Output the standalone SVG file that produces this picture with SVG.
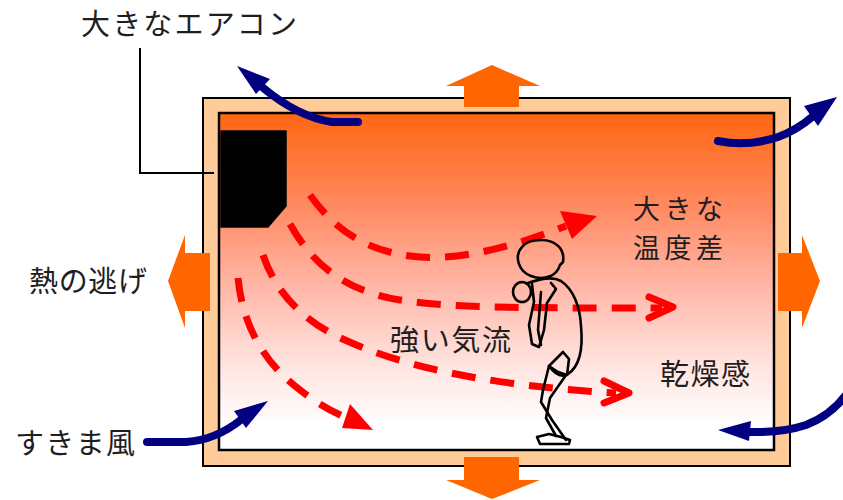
<svg xmlns="http://www.w3.org/2000/svg" width="843" height="500" viewBox="0 0 843 500">
  <defs>
    <linearGradient id="roomHeat" x1="0" y1="0" x2="0" y2="1">
      <stop offset="0" stop-color="#FF6611"/>
      <stop offset="0.28" stop-color="#FF8A62"/>
      <stop offset="0.5" stop-color="#FFB4A4"/>
      <stop offset="0.75" stop-color="#FFE4E0"/>
      <stop offset="0.93" stop-color="#FFFFFF"/>
    </linearGradient>
    <style>
      .label { font-family: "Noto Sans CJK JP", "Noto Sans", sans-serif; font-size: 29px; fill: #1e1e1e; }
      .label-sm { font-size: 27px; }
      .heat { fill: #FF6600; }
      .draft { fill: none; stroke: #000080; stroke-width: 8; stroke-linecap: round; }
      .draft-head { fill: #000080; }
      .flow { fill: none; stroke: #FF0000; stroke-width: 7; stroke-dasharray: 24 15; }
      .flow-head { fill: #FF0000; }
      .flow-chevron { fill: none; stroke: #FF0000; stroke-width: 7; stroke-linejoin: round; stroke-linecap: round; }
      .figure { fill: none; stroke: #000; stroke-width: 2.6; stroke-linejoin: round; stroke-linecap: round; }
    </style>
  </defs>

  <!-- room: wall and interior -->
  <g id="room">
    <rect x="203" y="98" width="587" height="368" fill="#FFCC99" stroke="#000" stroke-width="2"/>
    <rect x="219" y="113" width="555" height="337" fill="url(#roomHeat)" stroke="#000" stroke-width="2.5"/>
  </g>

  <!-- heat escaping through the walls -->
  <g id="heat-loss">
    <polygon class="heat" points="492,65 540,86 519,86 519,107 464,107 464,86 446,86"/>
    <polygon class="heat" points="464,457 519,457 519,480 540,480 492,499 446,480 464,480"/>
    <polygon class="heat" points="210,253 185,253 185,235 168,281 185,328 185,311 210,311"/>
    <polygon class="heat" points="778,253 802,253 802,235 820,281 802,328 802,311 778,311"/>
  </g>

  <!-- air conditioner unit and its leader -->
  <g id="aircon">
    <path d="M221,131 H286 V206 L268,227 H221 Z" fill="#000" stroke="#000" stroke-width="1.5" stroke-linejoin="round"/>
    <path d="M140,48 V173 H214" fill="none" stroke="#000" stroke-width="2"/>
    <text class="label" x="81" y="35" textLength="216">大きなエアコン</text>
  </g>

  <!-- connectors: draughts and forced air flow -->
  <g id="connectors">
    <!-- draughts (blue) -->
    <path class="draft" d="M358,122 L332,122 Q298,117 262,87"/>
    <polygon class="draft-head" points="237,66 270,79 256,94"/>
    <path class="draft" d="M718,141 Q748,147 778,137 Q797,130 812,117"/>
    <polygon class="draft-head" points="837,97 804,106 818,126"/>
    <path class="draft" d="M147,442 L186,442 Q216,440 242,419"/>
    <polygon class="draft-head" points="268,401 234,411 246,428"/>
    <path class="draft" d="M748,432 Q782,433 806,425 Q830,416 846,395"/>
    <polygon class="draft-head" points="718,430 751,421 749,441"/>

    <!-- strong air flow (red dashed) -->
    <path class="flow" d="M310,195 C335,230 365,250 410,256 C455,262 510,248 566,226"/>
    <polygon class="flow-head" points="597,216 560,211 572,239"/>
    <path class="flow" d="M290,224 C310,260 340,290 400,300 C450,308 520,308 662,308"/>
    <path class="flow-chevron" d="M649,297 L673,307 L649,318"/>
    <path class="flow" d="M263,255 C275,290 300,320 345,340 C400,365 480,385 616,393"/>
    <path class="flow-chevron" d="M604,381 L629,393 L604,403"/>
    <path class="flow" d="M238,278 C242,320 260,360 300,390 C318,404 334,413 350,419"/>
    <polygon class="flow-head" points="373,430 350,404 342,428"/>
  </g>

  <!-- person standing in the draught -->
  <g id="person">
    <path class="figure" d="M522,247 C514,256 518,271 531,276 C544,281 557,276 560,265 L563,262 C565,249 556,240 541,240 C532,240 525,243 522,247 Z"/>
    <ellipse class="figure" cx="522" cy="292" rx="9" ry="10"/>
    <path class="figure" d="M528,283 C540,279 552,276 561,281 C573,289 580,306 581,326 C583,347 580,366 568,374 C561,378 554,373 549,366"/>
    <path class="figure" d="M532,284 L534,302 L529,325 L532,344 L539,347 L544,330 L547,303 L556,289 L551,283"/>
    <path class="figure" d="M541,292 L538,330 L541,345"/>
    <path class="figure" d="M549,366 L563,352 L569,359 L567,375 L558,372 L549,366"/>
    <path class="figure" d="M549,366 L543,390 L541,402 L552,420 L566,440"/>
    <path class="figure" d="M566,375 L550,398 L546,418 L556,436"/>
    <path class="figure" d="M537,437 L549,434 L561,437 L570,440 L569,444 L540,444 Z"/>
  </g>

  <!-- labels -->
  <g id="labels">
    <text class="label" x="29" y="292" textLength="118">熱の逃げ</text>
    <text class="label" x="15" y="454" textLength="120">すきま風</text>
    <text class="label label-sm" x="633" y="218.5" textLength="90">大きな</text>
    <text class="label label-sm" x="633" y="258" textLength="90">温度差</text>
    <text class="label" x="390" y="351" textLength="121">強い気流</text>
    <text class="label" x="660" y="385" textLength="90">乾燥感</text>
  </g>
</svg>
